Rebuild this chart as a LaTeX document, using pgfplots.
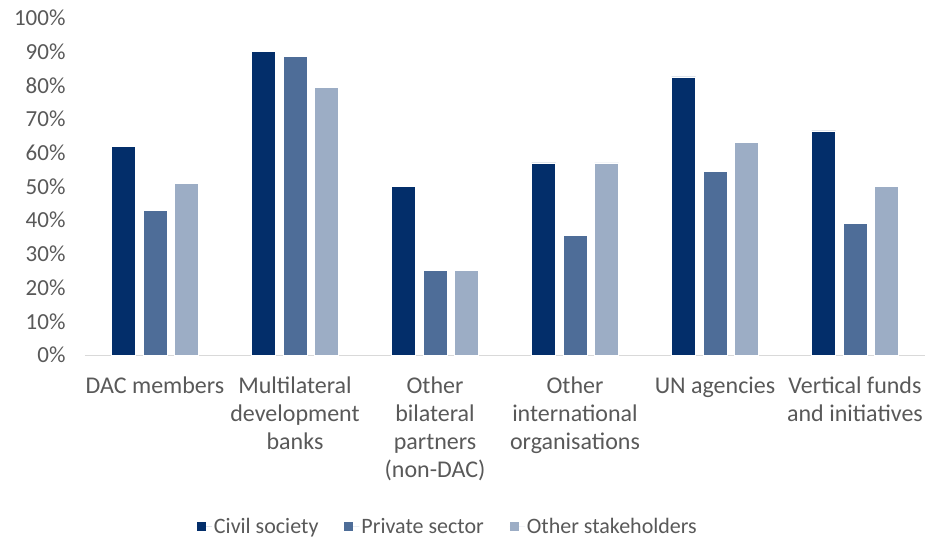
\documentclass[border=0pt]{standalone}
\usepackage{pgfplots}
\pgfplotsset{compat=1.18}
\usepackage{fontspec}
\setmainfont{Carlito}
\definecolor{civ}{RGB}{3,46,106}
\definecolor{priv}{RGB}{78,109,152}
\definecolor{oth}{RGB}{156,173,197}
\definecolor{txt}{RGB}{89,89,89}
\definecolor{axl}{RGB}{217,217,217}
\begin{document}
\begin{tikzpicture}
\useasboundingbox (-85pt,-185pt) rectangle (840pt,355pt);
\begin{axis}[
  at={(0pt,0pt)}, anchor=south west,
  scale only axis, width=840pt, height=337pt,
  ybar=7.5pt, bar width=24pt,
  xmin=-0.5, xmax=5.5, ymin=0, ymax=100,
  xtick=data,
  xticklabels={DAC members,{Multilateral\\development\\banks},{Other\\bilateral\\partners\\(non-DAC)},{Other\\international\\organisations},UN agencies,{Vertical funds\\and initiatives}},
  ytick={0,10,...,100},
  yticklabel={\pgfmathprintnumber{\tick}\%},
  /pgf/number format/assume math mode=true,
  major tick length=0pt,
  axis x line*=bottom,
  axis y line*=left,
  y axis line style={draw=none},
  x axis line style={draw=axl, line width=1pt},
  ticklabel style={text=txt},
  xticklabel style={font=\fontsize{24}{28}\selectfont, align=center, anchor=north, yshift=-18pt},
  yticklabel style={font=\fontsize{23}{28}\selectfont, anchor=east, xshift=-16pt},
  every axis plot/.append style={draw=white, line width=0.6pt},
  legend style={at={(0.432,-0.51)}, anchor=center, draw=none,
    font=\fontsize{22}{28}\selectfont, text=txt,
    legend columns=-1,
    /tikz/every even column/.append style={column sep=24pt}},
  legend image code/.code={\fill[#1, draw=none] (0pt,-4.5pt) rectangle (9pt,4.5pt); \path[draw=none] (0pt,0pt) -- (15pt,0pt);},
]
\addplot[fill=civ] coordinates {(0,62) (1,90) (2,50) (3,57) (4,82.5) (5,66.5)};
\addplot[fill=priv] coordinates {(0,43) (1,88.5) (2,25) (3,35.5) (4,54.5) (5,39)};
\addplot[fill=oth] coordinates {(0,51) (1,79.5) (2,25) (3,57) (4,63) (5,50)};
\legend{Civil society, Private sector, Other stakeholders}
\end{axis}
\end{tikzpicture}
\end{document}
